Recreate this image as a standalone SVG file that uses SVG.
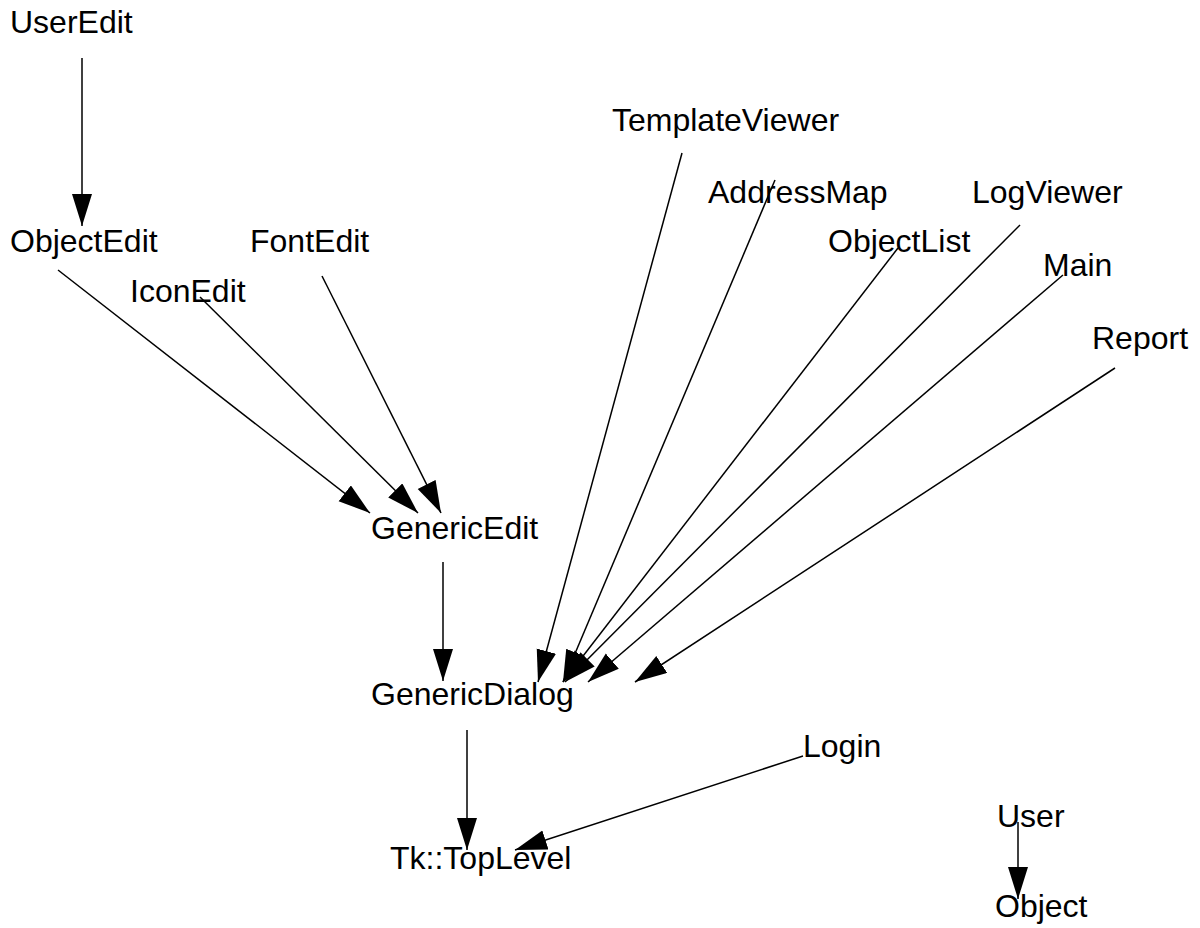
<svg xmlns="http://www.w3.org/2000/svg" width="1200" height="928" viewBox="0 0 1200 928">
  <style>
    .lbl { font-family: "Liberation Sans", Arial, Helvetica, sans-serif; font-size: 32px; fill: #000; }
    .edge { stroke: #000; stroke-width: 1.5; fill: none; marker-end: url(#head); }
  </style>
  <defs>
    <marker id="head" markerUnits="userSpaceOnUse" markerWidth="34" markerHeight="22" refX="32" refY="10" orient="auto">
      <path d="M0,0 L32,10 L0,20 Z" fill="#000"/>
    </marker>
  </defs>
  <rect width="1200" height="928" fill="#fff"/>

  <g id="connectors">
    <line class="edge" x1="82" y1="58" x2="82" y2="226"/>
    <line class="edge" x1="58" y1="270" x2="370" y2="513"/>
    <line class="edge" x1="200" y1="297" x2="418" y2="513"/>
    <line class="edge" x1="322" y1="276" x2="441" y2="513"/>
    <line class="edge" x1="443" y1="562" x2="443" y2="681"/>
    <line class="edge" x1="682" y1="153" x2="538" y2="682"/>
    <line class="edge" x1="775" y1="180" x2="563" y2="682"/>
    <line class="edge" x1="898" y1="248" x2="563" y2="682"/>
    <line class="edge" x1="1020" y1="225" x2="565" y2="682"/>
    <line class="edge" x1="1063" y1="275" x2="588" y2="682"/>
    <line class="edge" x1="1115" y1="368" x2="635" y2="682"/>
    <line class="edge" x1="467" y1="730" x2="467" y2="850"/>
    <line class="edge" x1="803" y1="756" x2="515" y2="850"/>
    <line class="edge" x1="1018" y1="822" x2="1018" y2="899"/>
  </g>

  <g id="UserEdit"><text class="lbl" x="10" y="33">UserEdit</text></g>
  <g id="ObjectEdit"><text class="lbl" x="10" y="252">ObjectEdit</text></g>
  <g id="FontEdit"><text class="lbl" x="250" y="252">FontEdit</text></g>
  <g id="IconEdit"><text class="lbl" x="130" y="302">IconEdit</text></g>
  <g id="GenericEdit"><text class="lbl" x="371" y="539">GenericEdit</text></g>
  <g id="GenericDialog"><text class="lbl" x="371" y="705">GenericDialog</text></g>
  <g id="TkTopLevel"><text class="lbl" x="390" y="869">Tk::TopLevel</text></g>
  <g id="TemplateViewer"><text class="lbl" x="612" y="131">TemplateViewer</text></g>
  <g id="AddressMap"><text class="lbl" x="708" y="203">AddressMap</text></g>
  <g id="LogViewer"><text class="lbl" x="972" y="203">LogViewer</text></g>
  <g id="ObjectList"><text class="lbl" x="828" y="252">ObjectList</text></g>
  <g id="Main"><text class="lbl" x="1043" y="276">Main</text></g>
  <g id="Report"><text class="lbl" x="1092" y="349">Report</text></g>
  <g id="Login"><text class="lbl" x="803" y="757">Login</text></g>
  <g id="User"><text class="lbl" x="997" y="827">User</text></g>
  <g id="Object"><text class="lbl" x="995" y="917">Object</text></g>
</svg>
